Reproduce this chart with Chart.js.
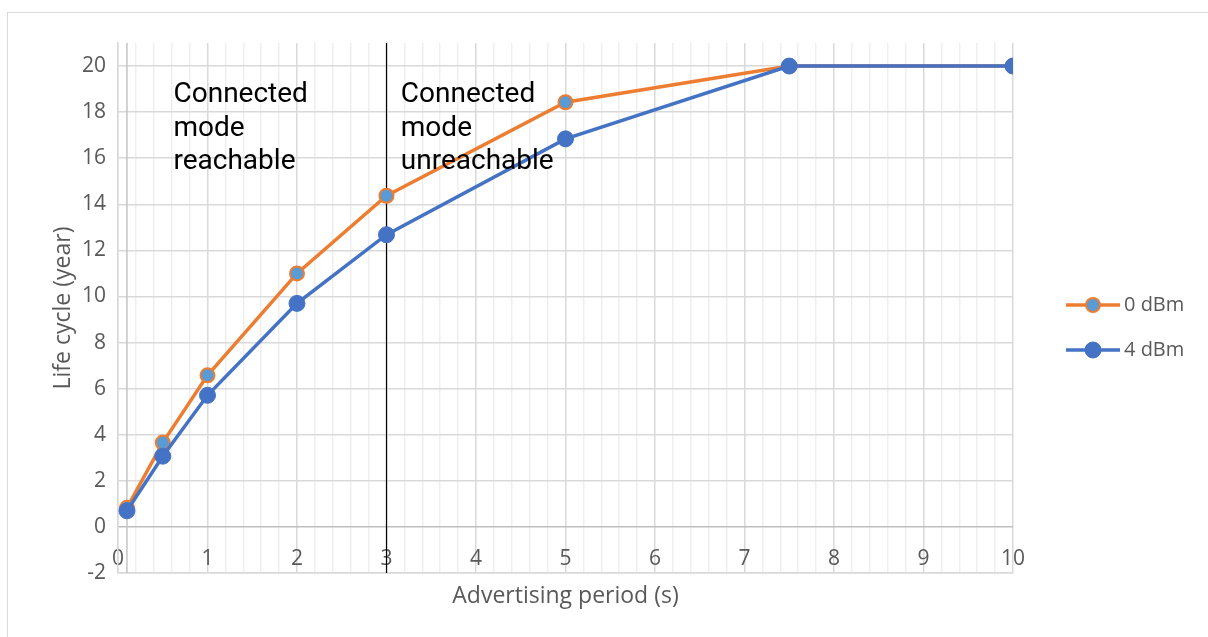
<!DOCTYPE html>
<html>
<head>
<meta charset="utf-8">
<script src="https://cdn.jsdelivr.net/npm/chart.js@4.4.1/dist/chart.umd.min.js"></script>
<style>
  body { margin: 0; background: #fff; }
  #frame { position: absolute; left: 7px; top: 12px; width: 1210px; height: 640px; border: 1px solid #d9d9d9; }
  #wrap { position: absolute; left: 0; top: 0; width: 1208px; height: 637px; }
</style>
</head>
<body>
<div id="frame"></div>
<div id="wrap"><canvas id="chart" width="1208" height="637"></canvas></div>
<script>
// advertising period (s) on x, life cycle (year) on y
const periods = [0.1, 0.5, 1, 2, 3, 5, 7.5, 10];
const life0dBm = [0.83, 3.66, 6.58, 11.0, 14.37, 18.43, 20, 20];
const life4dBm = [0.7, 3.07, 5.71, 9.7, 12.68, 16.84, 20, 20];
const seriesNames = ['0 dBm', '4 dBm'];
const yTicks = [-2, 0, 2, 4, 6, 8, 10, 12, 14, 16, 18, 20];
const xMajor = [0, 1, 2, 3, 4, 5, 6, 7, 8, 9, 10];

const boundaryX = 3;      // vertical black line
const axisCrossX = 0.1;   // where the vertical axis line sits
const notes = [
    { x: 0.62, lines: ['Connected', 'mode', 'reachable'] },
    { x: 3.16, lines: ['Connected', 'mode', 'unreachable'] }
];

const toPoints = ys => periods.map((p, i) => ({ x: p, y: ys[i] }));

const gray = '#595959';

// extra lines, notes and the legend (line + marker like excel)
const extras = {
    id: 'extras',
    beforeDatasetsDraw(chart) {
        const { ctx, chartArea: a, scales: { x } } = chart;
        ctx.save();
        ctx.strokeStyle = '#c4c4c4';
        ctx.lineWidth = 1.5;
        let px = x.getPixelForValue(axisCrossX);
        ctx.beginPath(); ctx.moveTo(px, a.top); ctx.lineTo(px, a.bottom); ctx.stroke();
        ctx.strokeStyle = '#000';
        ctx.lineWidth = 1.2;
        px = x.getPixelForValue(boundaryX);
        ctx.beginPath(); ctx.moveTo(px, a.top); ctx.lineTo(px, a.bottom); ctx.stroke();
        ctx.restore();
    },
    afterDatasetsDraw(chart) {
        const { ctx, chartArea: a, scales: { x } } = chart;
        ctx.save();
        ctx.fillStyle = '#000';
        ctx.font = '28px Roboto';
        ctx.textBaseline = 'middle';
        notes.forEach(n => {
            n.lines.forEach((t, i) => {
                ctx.fillText(t, x.getPixelForValue(n.x), a.top + 52 + i * 33.5);
            });
        });

        // legend
        const lx = a.right + 53;
        chart.data.datasets.forEach((ds, i) => {
            const y = 305 + i * 45;
            ctx.strokeStyle = ds.borderColor;
            ctx.lineWidth = 3.5;
            ctx.beginPath(); ctx.moveTo(lx, y); ctx.lineTo(lx + 54, y); ctx.stroke();
            ctx.beginPath();
            ctx.arc(lx + 27, y, ds.pointRadius, 0, Math.PI * 2);
            ctx.fillStyle = ds.pointBackgroundColor;
            ctx.fill();
            ctx.lineWidth = ds.pointBorderWidth;
            ctx.strokeStyle = ds.pointBorderColor;
            ctx.stroke();
            ctx.fillStyle = gray;
            ctx.font = '20px "Open Sans"';
            ctx.textBaseline = 'middle';
            ctx.fillText(ds.label, lx + 58, y);
        });
        ctx.restore();
    }
};

new Chart(document.getElementById('chart'), {
    type: 'line',
    data: {
        datasets: [{
            label: seriesNames[0],
            data: toPoints(life0dBm),
            borderColor: '#ED7D31',
            borderWidth: 3.5,
            pointRadius: 7,
            pointBackgroundColor: '#5B9BD5',
            pointBorderColor: '#ED7D31',
            pointBorderWidth: 2,
            order: 1
        }, {
            label: seriesNames[1],
            data: toPoints(life4dBm),
            borderColor: '#4472C4',
            borderWidth: 3.5,
            pointRadius: 8,
            pointBackgroundColor: '#4472C4',
            pointBorderColor: '#4472C4',
            pointBorderWidth: 1,
            order: 0
        }]
    },
    options: {
        responsive: false,
        animation: false,
        layout: { padding: { left: 50, top: 43, right: 195, bottom: 25 } },
        plugins: { legend: { display: false }, tooltip: { enabled: false } },
        scales: {
            x: {
                type: 'linear',
                min: 0, max: 10,
                afterBuildTicks: s => {
                    const t = [];
                    for (let i = 0; i <= 50; i++) t.push({ value: i / 5 });
                    s.ticks = t;
                },
                afterFit: s => { s.height = 39; },
                ticks: {
                    autoSkip: false,
                    maxRotation: 0,
                    mirror: true,   // labels sit inside the plot, above the -2 line
                    padding: 1,
                    color: gray,
                    font: { family: 'Open Sans', size: 21 },
                    callback: v => xMajor.includes(Math.round(v * 1000) / 1000) ? String(Math.round(v)) : ''
                },
                grid: {
                    drawTicks: false,
                    lineWidth: 1.5,
                    color: c => Math.abs(c.tick.value - Math.round(c.tick.value)) < 1e-6 ? '#d9d9d9' : '#efefef'
                },
                border: { color: '#d9d9d9', width: 1.5 },
                title: {
                    display: true,
                    text: 'Advertising period (s)',
                    color: gray,
                    font: { family: 'Open Sans', size: 23 },
                    padding: { top: 0, bottom: 2 }
                }
            },
            y: {
                min: -2, max: 21,
                afterBuildTicks: s => { s.ticks = yTicks.map(v => ({ value: v })); },
                afterFit: s => { s.width = 68; },
                ticks: {
                    padding: 12,
                    color: gray,
                    font: { family: 'Open Sans', size: 21 }
                },
                grid: {
                    drawTicks: false,
                    lineWidth: 1.5,
                    color: c => c.tick.value === 0 ? '#bfbfbf' : '#d9d9d9'
                },
                border: { color: '#d9d9d9', width: 1.5 },
                title: {
                    display: true,
                    text: 'Life cycle (year)',
                    color: gray,
                    font: { family: 'Open Sans', size: 23 },
                    padding: 0
                }
            }
        }
    },
    plugins: [extras]
});
</script>
</body>
</html>
